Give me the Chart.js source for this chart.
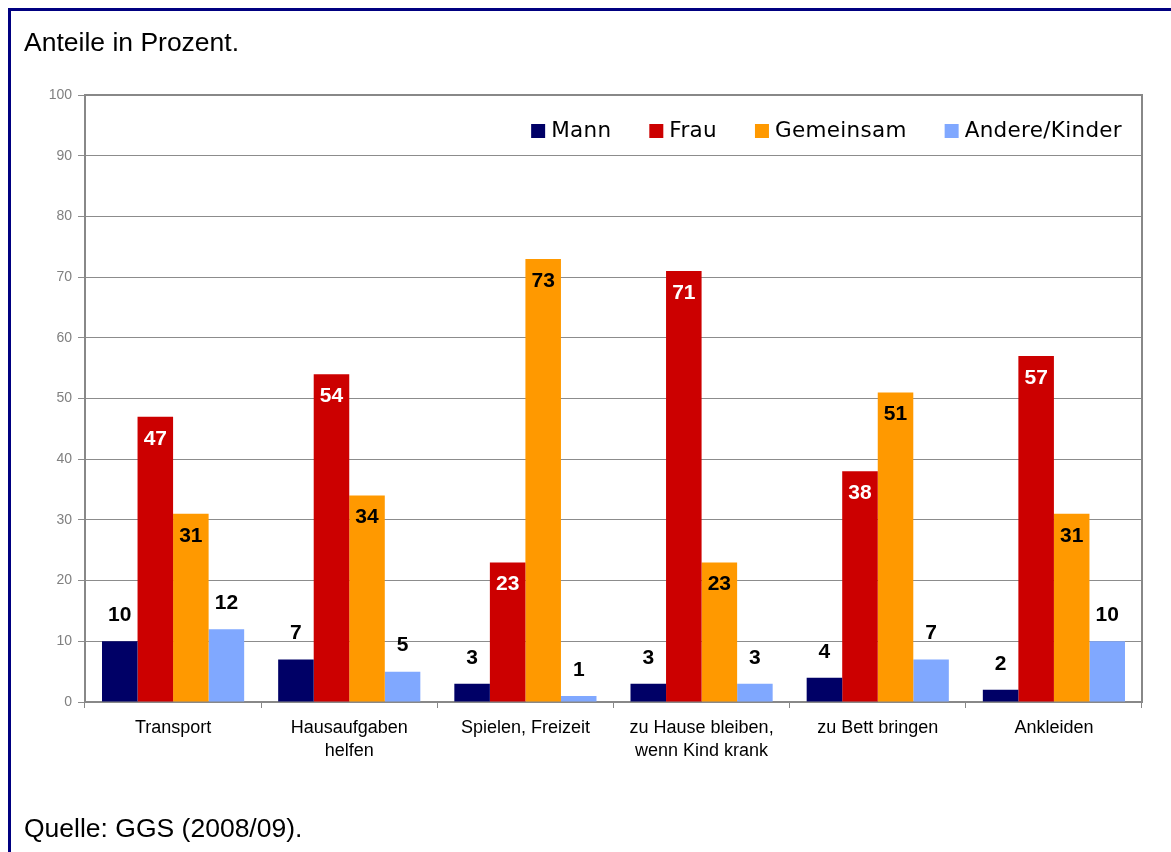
<!DOCTYPE html>
<html>
<head>
<meta charset="utf-8">
<script src="https://cdn.jsdelivr.net/npm/chart.js@4"></script>
<style>
  html, body { margin: 0; padding: 0; background: #fff; overflow: hidden; }
  body { width: 1171px; height: 852px; position: relative; }
  #frame { position: absolute; left: 8px; top: 8px; width: 1200px; height: 900px;
           border-left: 3px solid #000080; border-top: 3px solid #000080; box-sizing: border-box; }
  #chart { position: absolute; left: 0; top: 0; }
  .note { position: absolute; left: 24px; font-family: "Liberation Sans", Arial, sans-serif;
          font-size: 26.5px; color: #000; white-space: nowrap; line-height: 1; }
</style>
</head>
<body>
<div id="frame"></div>
<canvas id="chart" width="1171" height="852"></canvas>
<div class="note" style="top:29px">Anteile in Prozent.</div>
<div class="note" style="top:815px">Quelle: GGS (2008/09).</div>
<script>
const categories = [
  "Transport",
  ["Hausaufgaben", "helfen"],
  "Spielen, Freizeit",
  ["zu Hause bleiben,", "wenn Kind krank"],
  "zu Bett bringen",
  "Ankleiden"
];
const mann = [10, 7, 3, 3, 4, 2];
const frau = [47, 54, 23, 71, 38, 57];
const gemeinsam = [31, 34, 73, 23, 51, 31];
const andere = [12, 5, 1, 3, 7, 10];
const yTicks = [0, 10, 20, 30, 40, 50, 60, 70, 80, 90, 100];

// value labels: inside bar for Frau / Gemeinsam, above for the others
const valueLabels = {
  id: "valueLabels",
  afterDatasetsDraw(chart) {
    const ctx = chart.ctx;
    ctx.save();
    ctx.font = "bold 21px 'Liberation Sans', Arial, sans-serif";
    ctx.textAlign = "center";
    ctx.textBaseline = "middle";
    chart.data.datasets.forEach((ds, i) => {
      chart.getDatasetMeta(i).data.forEach((bar, j) => {
        const inside = ds.labelInside;
        ctx.fillStyle = ds.labelColor;
        ctx.fillText(String(ds.data[j]), bar.x, inside ? bar.y + 22 : bar.y - 26);
      });
    });
    ctx.restore();
  }
};

// border on top/right of plot area and legend inside it
const plotExtras = {
  id: "plotExtras",
  beforeDatasetsDraw(chart) {
    const { ctx, chartArea: a } = chart;
    ctx.save();
    ctx.strokeStyle = "#888888";
    ctx.lineWidth = 2;
    ctx.beginPath();
    ctx.moveTo(a.left, a.top);
    ctx.lineTo(a.right, a.top);
    ctx.lineTo(a.right, a.bottom);
    ctx.stroke();
    ctx.restore();
  },
  afterDraw(chart) {
    const ctx = chart.ctx;
    ctx.save();
    ctx.font = "21.5px 'DejaVu Sans', sans-serif";
    ctx.letterSpacing = "0.3px";
    ctx.textBaseline = "middle";
    const box = 14, gap = 6, spacing = 38, right = 1122, cy = 131;
    const items = chart.data.datasets.map(d => ({ text: d.label, color: d.backgroundColor,
      w: box + gap + ctx.measureText(d.label).width }));
    let total = items.reduce((s, it) => s + it.w, 0) + spacing * (items.length - 1);
    let x = right - total;
    items.forEach(it => {
      ctx.fillStyle = it.color;
      ctx.fillRect(x, cy - box / 2, box, box);
      ctx.fillStyle = "#000";
      ctx.fillText(it.text, x + box + gap, cy);
      x += it.w + spacing;
    });
    ctx.restore();
  }
};

new Chart(document.getElementById("chart"), {
  type: "bar",
  data: {
    labels: categories,
    datasets: [
      { label: "Mann", data: mann, backgroundColor: "#000066", labelColor: "#000", labelInside: false },
      { label: "Frau", data: frau, backgroundColor: "#CC0000", labelColor: "#fff", labelInside: true },
      { label: "Gemeinsam", data: gemeinsam, backgroundColor: "#FF9900", labelColor: "#000", labelInside: true },
      { label: "Andere/Kinder", data: andere, backgroundColor: "#80A8FF", labelColor: "#000", labelInside: false }
    ]
  },
  options: {
    responsive: false,
    animation: false,
    layout: { padding: { top: 95, right: 29, left: 0, bottom: 0 } },
    datasets: { bar: { categoryPercentage: 0.807, barPercentage: 1.0, borderWidth: 0 } },
    plugins: { legend: { display: false }, tooltip: { enabled: false }, title: { display: false } },
    scales: {
      x: {
        afterFit(scale) { scale.height = 150; },
        grid: { offset: true, drawOnChartArea: false, color: "#888888", tickLength: 6 },
        border: { color: "#888888", width: 2 },
        ticks: {
          color: "#000",
          padding: 8,
          maxRotation: 0,
          autoSkip: false,
          font: { family: "'Liberation Sans', Arial, sans-serif", size: 18, lineHeight: 1.3 }
        }
      },
      y: {
        min: 0,
        max: 100,
        afterFit(scale) { scale.width = 85; },
        afterBuildTicks(scale) { scale.ticks = yTicks.map(v => ({ value: v })); },
        grid: { color: "#8c8c8c", tickLength: 7 },
        border: { color: "#888888", width: 2 },
        ticks: {
          color: "#808080",
          padding: 6,
          font: { family: "'Liberation Sans', Arial, sans-serif", size: 14 }
        }
      }
    }
  },
  plugins: [valueLabels, plotExtras]
});
</script>
</body>
</html>
